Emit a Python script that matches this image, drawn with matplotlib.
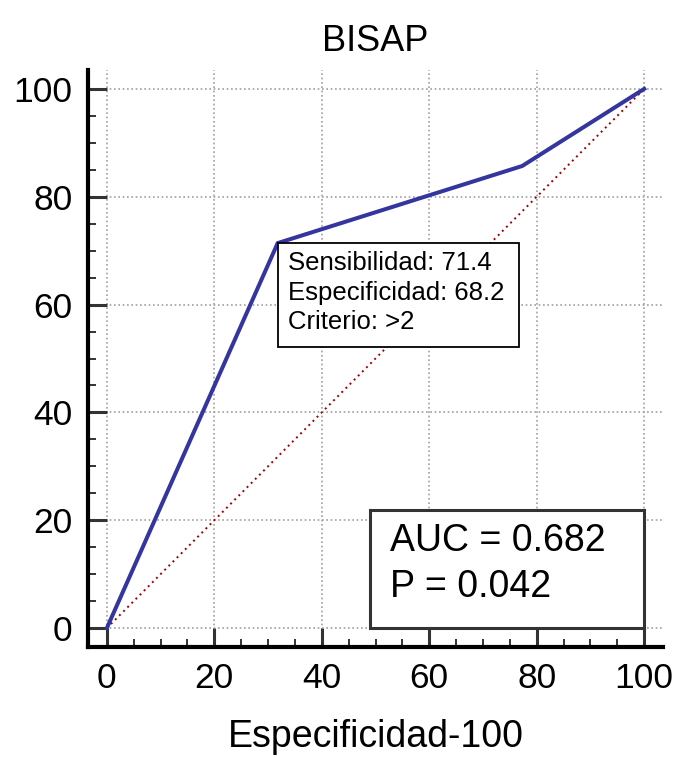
import matplotlib.pyplot as plt
from matplotlib.patches import Rectangle
from matplotlib.ticker import MultipleLocator

plt.rcParams['font.family'] = ['Liberation Sans', 'DejaVu Sans']

# ROC curve data (100 - specificity, sensitivity)
fpr = [0, 31.8, 77.3, 100]
sens = [0, 71.4, 85.7, 100]
diag = [0, 100]

title = "BISAP"
xlabel = "Especificidad-100"
cut_lines = ["Sensibilidad: 71.4", "Especificidad: 68.2", "Criterio: >2"]
auc_lines = ["AUC = 0.682", "P = 0.042"]

fig = plt.figure(figsize=(6.81, 7.58), dpi=100)
ax = fig.add_axes([88/681, 1-647/758, (663-88)/681, (647-70)/758])

ax.plot(diag, diag, color='#a00000', lw=1.4, ls=(0, (1, 2)), zorder=3)
ax.plot(fpr, sens, color='#3535a0', lw=2.9, solid_joinstyle='miter', zorder=4)

ax.set_xlim(-3.5, 103.5)
ax.set_ylim(-3.5, 103.5)
ax.xaxis.set_major_locator(MultipleLocator(20))
ax.yaxis.set_major_locator(MultipleLocator(20))
ax.xaxis.set_minor_locator(MultipleLocator(5))
ax.yaxis.set_minor_locator(MultipleLocator(5))
ax.grid(True, which='major', color='#a0a0a0', ls=(0, (1, 1.6)), lw=1.2)

for s in ['top', 'right']:
    ax.spines[s].set_visible(False)
for s in ['left', 'bottom']:
    ax.spines[s].set_linewidth(3)
ax.tick_params(which='major', direction='in', length=13.5, width=2.2,
               color='#333333', labelsize=25.5, pad=11)
ax.tick_params(which='minor', direction='in', length=5.5, width=1.4,
               color='#333333')

ax.set_title(title, fontsize=26, pad=14)
ax.set_xlabel(xlabel, fontsize=27, labelpad=17)

# criterion box anchored at the cut-off point
cx, cy = fpr[1], sens[1]
ax.add_patch(Rectangle((cx, cy - 19.2), 44.9, 19.2, fill=True, fc='white',
                       ec='black', lw=1.3, zorder=5))
ax.text(cx + 1.85, cy - 1.5, "\n".join(cut_lines), fontsize=18.5, va='top',
        ha='left', linespacing=1.28, zorder=6)

# AUC box
ax.add_patch(Rectangle((49, 0), 51, 21.9, fill=True, fc='white',
                       ec='#333333', lw=2.2, zorder=5))
ax.text(52.7, 19.5, "\n".join(auc_lines), fontsize=27, va='top', ha='left',
        linespacing=1.36, zorder=6)

plt.savefig('out.png', dpi=100)
